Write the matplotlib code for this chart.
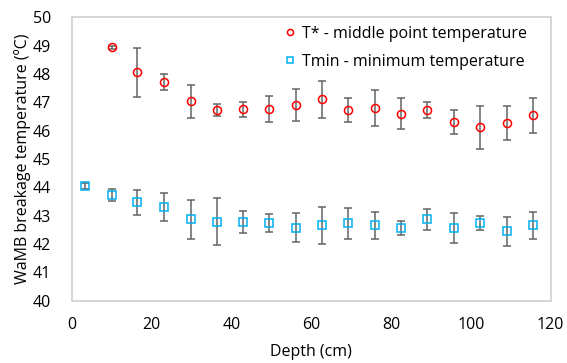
import matplotlib
matplotlib.use("Agg")
import matplotlib.pyplot as plt

plt.rcParams['font.family'] = ['Open Sans', 'DejaVu Sans']

# depth (cm)
depth_tstar = [10.0, 16.4, 23.2, 29.8, 36.5, 42.8, 49.5, 56.2, 62.7, 69.3,
               76.1, 82.5, 89.0, 95.7, 102.4, 109.0, 115.6]
depth_tmin = [3.3] + depth_tstar

# T* - middle point temperature
tstar = [48.95, 48.06, 47.72, 47.04, 46.73, 46.76, 46.76, 46.90, 47.11, 46.73,
         46.81, 46.60, 46.73, 46.30, 46.13, 46.26, 46.55]
tstar_err = [0.05, 0.87, 0.28, 0.58, 0.21, 0.26, 0.45, 0.56, 0.65, 0.41,
             0.64, 0.55, 0.27, 0.43, 0.76, 0.60, 0.62]

# Tmin - minimum temperature
tmin = [44.06, 43.73, 43.47, 43.31, 42.87, 42.79, 42.79, 42.74, 42.58, 42.66,
        42.74, 42.66, 42.58, 42.87, 42.58, 42.74, 42.45, 42.66]
tmin_err = [0.10, 0.21, 0.43, 0.50, 0.69, 0.83, 0.39, 0.32, 0.50, 0.65,
            0.55, 0.47, 0.25, 0.36, 0.53, 0.26, 0.51, 0.47]

fig = plt.figure(figsize=(5.67, 3.63), dpi=100)
ax = fig.add_axes([0.1265, 0.1716, 0.8445, 0.7804])

err_kw = dict(fmt='none', ecolor='#646464', elinewidth=1.1, capsize=2.6, capthick=1.1, zorder=2)
ax.errorbar(depth_tstar, tstar, yerr=tstar_err, **err_kw)
ax.errorbar(depth_tmin, tmin, yerr=tmin_err, **err_kw)

ax.plot(depth_tstar, tstar, 'o', ms=5.8, mfc='none', mec='#FF0000', mew=1.1,
        label='T* - middle point temperature', zorder=3)
ax.plot(depth_tmin, tmin, 's', ms=5.4, mfc='none', mec='#00B0F0', mew=1.1,
        label='Tmin - minimum temperature', zorder=3)

ax.set_xlim(0, 120)
ax.set_ylim(40, 50)
ax.set_xticks(range(0, 121, 20))
ax.set_yticks(range(40, 51, 1))
ax.tick_params(length=0, labelsize=11.5)
ax.tick_params(axis='x', pad=12)
ax.tick_params(axis='y', pad=15)
for s in ax.spines.values():
    s.set_color('#D0D0D0')
    s.set_linewidth(1.2)

ax.set_xlabel('Depth (cm)', fontsize=11.5, labelpad=8)
ax.set_ylabel('WaMB breakage temperature (ºC)', fontsize=11.5, labelpad=1)

ax.legend(loc='upper right', bbox_to_anchor=(0.965, 0.995), frameon=False,
          fontsize=11.5, handletextpad=0.2, labelspacing=0.75, borderaxespad=0.05,
          handlelength=1.0, markerscale=0.75)

fig.savefig('out.png', dpi=100)
